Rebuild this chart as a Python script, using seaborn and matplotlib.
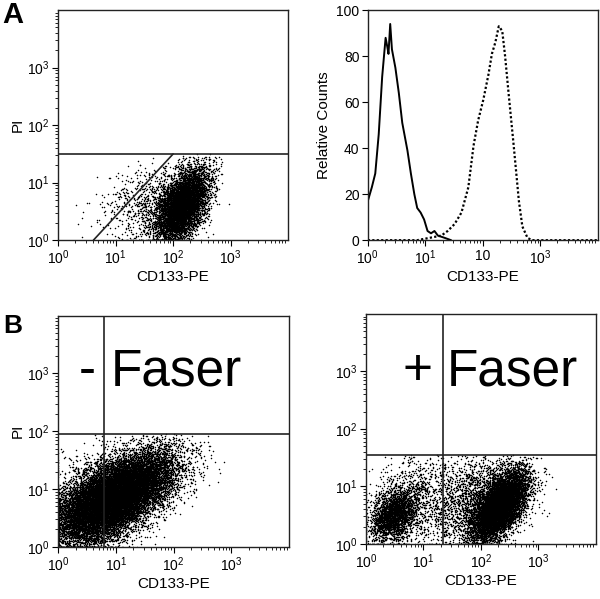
import numpy as np
import pandas as pd
import matplotlib
matplotlib.use("Agg")
import matplotlib.pyplot as plt
import seaborn as sns

# ---- data ----
# histogram (panel A right): log10(CD133-PE) position and relative counts
solid_log_x = [0.0, 0.0, 0.07, 0.13, 0.19, 0.25, 0.31, 0.34, 0.36, 0.39, 0.42, 0.48,
               0.54, 0.60, 0.69, 0.75, 0.81, 0.86, 0.92, 0.98, 1.04, 1.10, 1.16,
               1.22, 1.34, 1.45]
solid_counts = [0, 17, 23, 29, 46, 71, 88, 84, 81, 94, 83, 75, 64, 51, 39, 29, 20,
                14, 12, 9, 4, 3, 4, 2, 1, 0]
dotted_log_x = [0.0, 0.86, 1.28, 1.39, 1.51, 1.63, 1.75, 1.84, 1.92, 2.01, 2.10,
                2.16, 2.22, 2.28, 2.34, 2.39, 2.45, 2.54, 2.63, 2.69, 2.78, 2.86, 4.0]
dotted_counts = [0, 0, 2, 4, 7, 12, 23, 41, 52, 61, 72, 81, 86, 93, 91, 80, 64, 41,
                 17, 6, 1, 0, 0]

# event populations for dot plots, in log10 units:
# (center x, center y, sd x, sd y, correlation, number of events)
pop_a = [(2.18, 0.62, 0.22, 0.32, 0.50, 6000),
         (1.85, 0.55, 0.28, 0.35, 0.30, 900),
         (1.30, 0.65, 0.35, 0.35, 0.40, 300)]
pop_b_minus = [(1.00, 0.88, 0.50, 0.38, 0.60, 17000),
               (0.60, 0.70, 0.45, 0.45, 0.30, 2000)]
pop_b_plus = [(0.48, 0.50, 0.20, 0.22, 0.30, 2300),
              (0.85, 0.80, 0.40, 0.40, 0.20, 900),
              (2.32, 0.65, 0.24, 0.30, 0.60, 8500),
              (1.90, 0.80, 0.45, 0.40, 0.30, 1800)]

# gates
gate_a_y = 31.6
gate_a_diag_x = [4.1, 100]
gate_a_diag_y = [1, 31.6]
gate_bm = (6.3, 89)
gate_bp = (22, 35)

decade_ticks = [1, 10, 100, 1000]
decade_labels = [r"$\mathregular{10^0}$", r"$\mathregular{10^1}$",
                 r"$\mathregular{10^2}$", r"$\mathregular{10^3}$"]
hist_labels = [r"$\mathregular{10^0}$", r"$\mathregular{10^1}$", "10",
               r"$\mathregular{10^3}$"]

sns.set_theme(style="ticks")
plt.rcParams["font.family"] = ["Liberation Sans", "DejaVu Sans"]
plt.rcParams["mathtext.fontset"] = "custom"
plt.rcParams["mathtext.rm"] = "Liberation Sans"
plt.rcParams["axes.edgecolor"] = "#222222"
plt.rcParams["axes.linewidth"] = 1.0
for key in ["text.color", "axes.labelcolor", "xtick.color", "ytick.color"]:
    plt.rcParams[key] = "black"

rng = np.random.default_rng(7)


def events(pops, y_gate):
    frames = []
    for cx, cy, sx, sy, r, n in pops:
        cov = [[sx * sx, r * sx * sy], [r * sx * sy, sy * sy]]
        xy = rng.multivariate_normal([cx, cy], cov, n)
        frames.append(xy)
    xy = np.vstack(frames)
    xy = xy[xy[:, 1] < np.log10(y_gate)]
    xy = np.clip(xy, 0.0, 4.0)
    return pd.DataFrame({"x": 10 ** xy[:, 0], "y": 10 ** xy[:, 1]})


def style_log(ax, ylog=True):
    ax.set_xscale("log")
    ax.set_xlim(1, 1e4)
    ax.set_xticks(decade_ticks)
    ax.set_xticklabels(decade_labels)
    if ylog:
        ax.set_yscale("log")
        ax.set_ylim(1, 1e4)
        ax.set_yticks(decade_ticks)
        ax.set_yticklabels(decade_labels)
        ax.set_ylabel("PI", fontsize=11, labelpad=2)
    ax.set_xlabel("CD133-PE", fontsize=11, labelpad=2)
    ax.tick_params(which="major", length=4, width=0.8, labelsize=10, pad=2)
    ax.tick_params(which="minor", length=2, width=0.6)
    for s in ax.spines.values():
        s.set_visible(True)


fig = plt.figure(figsize=(6, 5.99), dpi=100)
ax1 = fig.add_axes([0.097, 0.599, 0.383, 0.384])
ax2 = fig.add_axes([0.613, 0.599, 0.383, 0.384])
ax3 = fig.add_axes([0.097, 0.087, 0.385, 0.386])
ax4 = fig.add_axes([0.610, 0.092, 0.383, 0.384])

# A left: dot plot with gates
df_a = events(pop_a, gate_a_y)
sns.scatterplot(data=df_a, x="x", y="y", s=1.2, color="black", linewidth=0,
                ax=ax1, legend=False)
ax1.axhline(gate_a_y, color="#222222", lw=1.2)
ax1.plot(gate_a_diag_x, gate_a_diag_y, color="#222222", lw=1.2)
style_log(ax1)

# A right: histograms
hist_solid = pd.DataFrame({"x": 10 ** np.array(solid_log_x), "y": solid_counts})
hist_dot = pd.DataFrame({"x": 10 ** np.array(dotted_log_x), "y": dotted_counts})
sns.lineplot(data=hist_solid, x="x", y="y", color="black", lw=1.4, ax=ax2,
             sort=False, estimator=None)
sns.lineplot(data=hist_dot, x="x", y="y", color="black", lw=1.6, ax=ax2,
             linestyle=(0, (1, 1)), sort=False, estimator=None)
style_log(ax2, ylog=False)
ax2.set_xticklabels(hist_labels)
ax2.set_ylim(0, 100)
ax2.set_yticks([0, 20, 40, 60, 80, 100])
ax2.set_ylabel("Relative Counts", fontsize=11, labelpad=4)

# B left: - Faser
df_bm = events(pop_b_minus, gate_bm[1])
sns.scatterplot(data=df_bm, x="x", y="y", s=1.2, color="black", linewidth=0,
                ax=ax3, legend=False)
ax3.axvline(gate_bm[0], color="#222222", lw=1.2)
ax3.axhline(gate_bm[1], color="#222222", lw=1.2)
style_log(ax3)
ax3.text(0.126, 0.70, "-", transform=ax3.transAxes, fontsize=37, ha="center",
         va="baseline")
ax3.text(0.226, 0.70, "Faser", transform=ax3.transAxes, fontsize=37, ha="left",
         va="baseline")

# B right: + Faser
df_bp = events(pop_b_plus, gate_bp[1])
sns.scatterplot(data=df_bp, x="x", y="y", s=1.2, color="black", linewidth=0,
                ax=ax4, legend=False)
ax4.axvline(gate_bp[0], color="#222222", lw=1.2)
ax4.axhline(gate_bp[1], color="#222222", lw=1.2)
style_log(ax4)
ax4.set_ylabel("")
ax4.text(0.226, 0.69, "+", transform=ax4.transAxes, fontsize=37, ha="center",
         va="baseline")
ax4.text(0.350, 0.69, "Faser", transform=ax4.transAxes, fontsize=37, ha="left",
         va="baseline")

fig.text(0.003, 0.998, "A", fontsize=21, fontweight="bold", va="top", ha="left")
fig.text(0.006, 0.475, "B", fontsize=19, fontweight="bold", va="top", ha="left")

fig.savefig("out.png", dpi=100)
